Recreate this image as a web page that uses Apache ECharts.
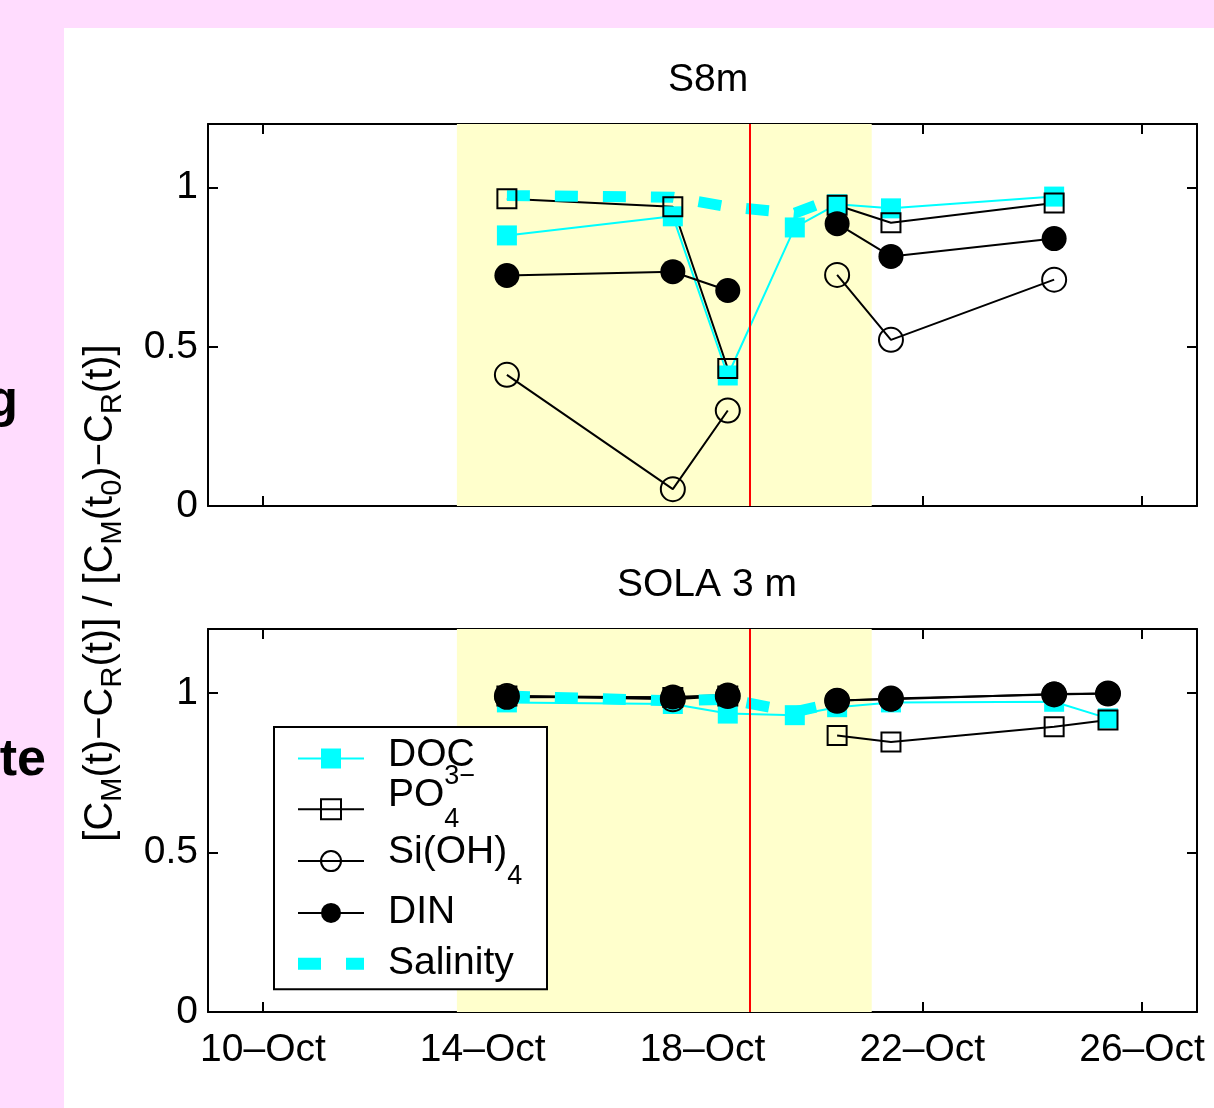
<!DOCTYPE html>
<html>
<head>
<meta charset="utf-8">
<script src="https://cdn.jsdelivr.net/npm/echarts@6/dist/echarts.min.js"></script>
<style>
  html, body { margin: 0; padding: 0; background: #FFDCFE; }
  #chart { width: 1214px; height: 1108px; }
</style>
</head>
<body>
<div id="chart"></div>
<script>
// Sampling dates, as day of October (fractional days)
const daysS8m = [14.44, 17.46, 18.46, 19.68, 20.45, 21.43, 24.40];
const daysSola = [14.44, 17.46, 18.46, 19.68, 20.45, 21.43, 24.40, 25.38];

// S8m: normalized concentration ratios (null = no sample)
const s8mDOC = [0.85, 0.91, 0.41, 0.875, 0.948, 0.935, 0.972];
const s8mPO4 = [0.965, 0.94, 0.432, null, 0.945, 0.89, 0.952];
const s8mSi  = [0.412, 0.053, 0.30, null, 0.726, 0.522, 0.711];
const s8mDIN = [0.724, 0.736, 0.677, null, 0.887, 0.784, 0.84];
const s8mSal = [0.975, 0.97, 0.94, 0.92, 0.97, null, null];

// SOLA 3 m: normalized concentration ratios
const solaDOC = [0.97, 0.965, 0.935, 0.93, 0.955, 0.97, 0.972, 0.92];
const solaPO4 = [0.99, 0.985, 0.99, null, 0.866, 0.846, 0.894, 0.915];
const solaSi  = [0.99, 0.98, 0.99, null, 0.975, 0.982, 0.995, 0.998];
const solaDIN = [0.986, 0.987, 0.993, null, 0.976, 0.98, 0.996, 0.998];
const solaSal = [0.99, 0.975, 0.98, 0.94, 0.97, null, null, null];

// Axis ticks and annotations
const dayTicks = [10, 14, 18, 22, 26];
const ratioTicks = [0, 0.5, 1];
const dayRange = [9, 27];
const ratioRange = [0, 1.2];
const shadedPeriod = [13.53, 21.08];
const eventDay = 18.86;
const panelTitles = ['S8m', 'SOLA 3 m'];

// Legend entries and their (rich-text) labels
const legendNames = ['DOC', 'PO4', 'Si', 'DIN', 'Salinity'];
const legendLabels = [
  '{t|DOC}',
  '{tPO|PO}{subPO|4}{supPO|3−}',
  '{tSi|Si(OH)}{subSi|4}',
  '{t|DIN}',
  '{t|Salinity}'
];

const FONT = '"Liberation Sans", Arial, Helvetica, sans-serif';
const CYAN = '#00FFFF';

function pairs(days, vals) {
  return days.map((d, i) => [d, vals[i] == null ? '-' : vals[i]]);
}

function panelSeries(gi, days, doc, po4, si, din, sal) {
  const ax = { xAxisIndex: gi * 2, yAxisIndex: gi * 2, type: 'line', animation: false, emphasis: { disabled: true } };
  return [
    Object.assign({}, ax, {
      name: 'DOC', data: pairs(days, doc), symbol: 'rect', symbolSize: 20,
      itemStyle: { color: CYAN }, lineStyle: { color: CYAN, width: 2 },
      markArea: {
        silent: true, itemStyle: { color: '#FFFFCC' },
        data: [[{ xAxis: shadedPeriod[0] }, { xAxis: shadedPeriod[1] }]]
      },
      markLine: {
        silent: true, symbol: 'none', label: { show: false }, animation: false,
        lineStyle: { color: '#FF0000', width: 2, type: 'solid' },
        data: [{ xAxis: eventDay }]
      }
    }),
    Object.assign({}, ax, {
      name: 'PO4', data: pairs(days, po4), symbol: 'rect', symbolSize: 19,
      itemStyle: { color: 'rgba(0,0,0,0)', borderColor: '#000', borderWidth: 2 },
      lineStyle: { color: '#000', width: 2 }
    }),
    Object.assign({}, ax, {
      name: 'Si', data: pairs(days, si), symbol: 'circle', symbolSize: 24,
      itemStyle: { color: 'rgba(0,0,0,0)', borderColor: '#000', borderWidth: 2 },
      lineStyle: { color: '#000', width: 2 }
    }),
    Object.assign({}, ax, {
      name: 'DIN', data: pairs(days, din), symbol: 'circle', symbolSize: 25,
      itemStyle: { color: '#000' }, lineStyle: { color: '#000', width: 2 }
    }),
    Object.assign({}, ax, {
      name: 'Salinity', data: pairs(days, sal), symbol: 'none',
      itemStyle: { color: CYAN },
      lineStyle: { color: CYAN, width: 11, type: [23, 25], cap: 'butt' }
    })
  ];
}

function xAxes(gi) {
  const common = {
    gridIndex: gi, type: 'value', min: dayRange[0], max: dayRange[1],
    axisLine: { onZero: false, lineStyle: { color: '#000', width: 2 } },
    axisTick: { inside: true, length: 10, customValues: dayTicks, lineStyle: { color: '#000', width: 2 } },
    splitLine: { show: false }
  };
  return [
    Object.assign({}, common, {
      position: 'bottom',
      axisLabel: {
        show: gi === 1, customValues: dayTicks, formatter: v => v + '–Oct',
        fontSize: 39, color: '#000', fontFamily: FONT, margin: 19
      }
    }),
    Object.assign({}, common, { position: 'top', axisLabel: { show: false } })
  ];
}

function yAxes(gi) {
  const common = {
    gridIndex: gi, type: 'value', min: ratioRange[0], max: ratioRange[1],
    axisLine: { onZero: false, lineStyle: { color: '#000', width: 2 } },
    axisTick: { inside: true, length: 10, customValues: ratioTicks, lineStyle: { color: '#000', width: 2 } },
    splitLine: { show: false }
  };
  return [
    Object.assign({}, common, {
      position: 'left',
      axisLabel: { customValues: ratioTicks, fontSize: 39, color: '#000', fontFamily: FONT, margin: 10 }
    }),
    Object.assign({}, common, { position: 'right', axisLabel: { show: false } })
  ];
}

// Legend rows: icons come from the legend component, labels are placed beside them
const LEGEND_TOP = 727, LEGEND_ROW0 = 757, LEGEND_STEP = 50.75;
const labelNudge = [-2, 0, 0, 3, 3];
const legendRich = {
  t: { fontSize: 39, fontFamily: FONT },
  tPO: { fontSize: 39, fontFamily: FONT, padding: [0, 0, 26, 0] },
  subPO: { fontSize: 27, fontFamily: FONT, padding: [24, 0, 0, 0] },
  supPO: { fontSize: 27, fontFamily: FONT, padding: [0, 0, 62, -15] },
  tSi: { fontSize: 39, fontFamily: FONT, padding: [0, 0, 12, 0] },
  subSi: { fontSize: 27, fontFamily: FONT, padding: [36, 0, 0, 0] }
};
const legendLabelGraphics = legendLabels.map((txt, i) => ({
  type: 'text', x: 388, y: LEGEND_ROW0 + i * LEGEND_STEP + labelNudge[i], z: 20, silent: true,
  style: { text: txt, rich: legendRich, fontSize: 39, fontFamily: FONT, fill: '#000', align: 'left', verticalAlign: 'middle' }
}));

const salinityIcon = 'path://M0,0L0.01,0L0.01,0.01L0,0.01Z M0,6.5L23,6.5L23,18.5L0,18.5Z M48,6.5L66,6.5L66,18.5L48,18.5Z M65.99,24.99L66,24.99L66,25L65.99,25Z';

const option = {
  backgroundColor: '#FFDCFE',
  animation: false,
  title: [
    { text: panelTitles[0], left: 668, top: 61, padding: 0,
      textStyle: { fontSize: 39, fontWeight: 'normal', color: '#000', fontFamily: FONT } },
    { text: panelTitles[1], left: 617, top: 566, padding: 0,
      textStyle: { fontSize: 39, fontWeight: 'normal', color: '#000', fontFamily: FONT } }
  ],
  grid: [
    { left: 208, top: 124, width: 989, height: 382 },
    { left: 208, top: 629, width: 989, height: 383 }
  ],
  xAxis: xAxes(0).concat(xAxes(1)),
  yAxis: yAxes(0).concat(yAxes(1)),
  legend: {
    orient: 'vertical', left: 274, top: LEGEND_TOP, padding: [19, 182, 13, 23],
    itemGap: 28.3, itemWidth: 66, itemHeight: 25,
    backgroundColor: '#fff', borderColor: '#000', borderWidth: 2,
    selectedMode: false,
    data: legendNames.map(n => n === 'Salinity' ? { name: n, icon: salinityIcon } : n),
    formatter: () => '',
    textStyle: { fontSize: 1, color: '#000' }
  },
  graphic: [
    { type: 'rect', z: -10, silent: true, shape: { x: 64, y: 28, width: 1150, height: 1080 }, style: { fill: '#fff' } },
    { type: 'text', x: 18, y: 402, silent: true,
      style: { text: 'g', fontSize: 52, fontWeight: 'bold', fontFamily: FONT, fill: '#000', align: 'right', verticalAlign: 'middle' } },
    { type: 'text', x: 46, y: 761, silent: true,
      style: { text: 'te', fontSize: 52, fontWeight: 'bold', fontFamily: FONT, fill: '#000', align: 'right', verticalAlign: 'middle' } },
    { type: 'text', x: 101, y: 593, rotation: Math.PI / 2, silent: true,
      style: {
        text: '[C{s|M}(t)−C{s|R}(t)] / [C{s|M}(t{s|0})−C{s|R}(t)]',
        fontSize: 40, fontFamily: FONT, fill: '#000',
        align: 'center', verticalAlign: 'middle',
        rich: { s: { fontSize: 29, fontFamily: FONT, padding: [24, 0, 0, 0] } }
      } }
  ].concat(legendLabelGraphics),
  series: panelSeries(0, daysS8m, s8mDOC, s8mPO4, s8mSi, s8mDIN, s8mSal)
    .concat(panelSeries(1, daysSola, solaDOC, solaPO4, solaSi, solaDIN, solaSal))
};

const chart = echarts.init(document.getElementById('chart'), null, { renderer: 'canvas' });
chart.setOption(option);
</script>
</body>
</html>
